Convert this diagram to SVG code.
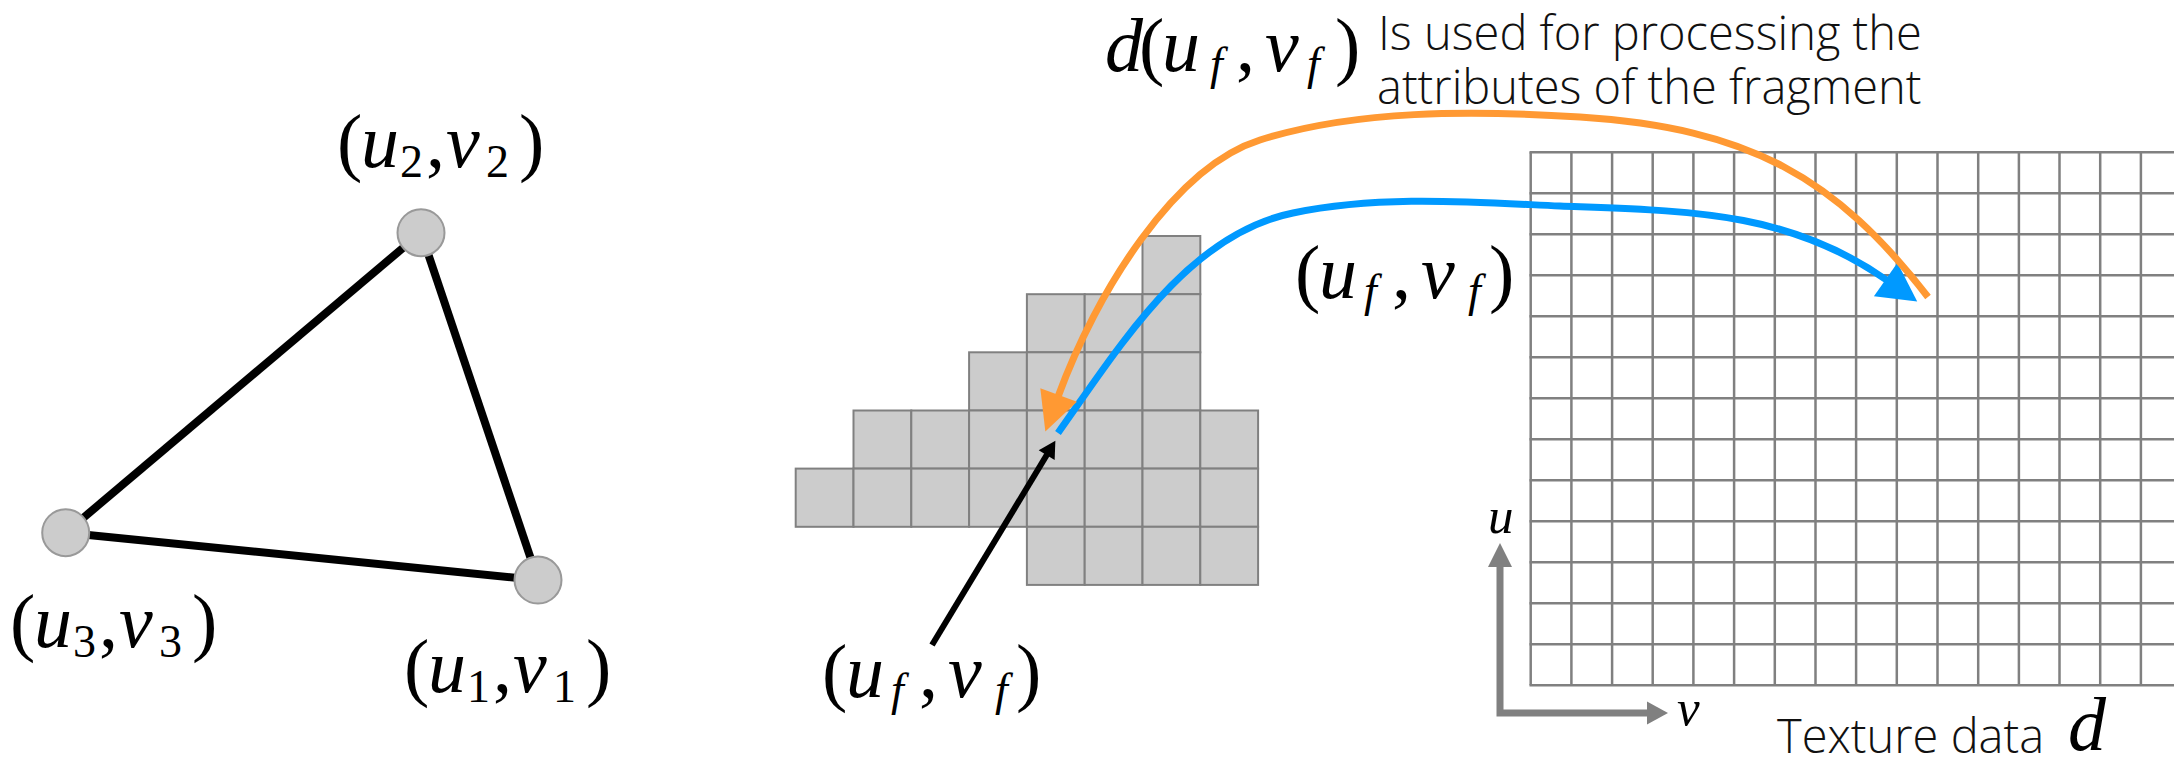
<svg xmlns="http://www.w3.org/2000/svg" width="2174" height="765" viewBox="0 0 2174 765">
<style>
.edge{stroke:#000;stroke-width:8;fill:none}
.vtx{fill:#cccccc;stroke:#999999;stroke-width:2}
.cell{fill:#cccccc;stroke:#808080;stroke-width:2}
.tex{stroke:#808080;stroke-width:2.5;fill:none}
.m{font-family:"Liberation Serif","Times New Roman",serif;font-size:76px;fill:#000}
.i{font-style:italic}
.s{font-size:46px}
.ax{font-family:"Liberation Serif","Times New Roman",serif;font-size:51px;font-style:italic;fill:#000}
.t{font-family:"Open Sans","Liberation Sans",sans-serif;font-weight:300;font-size:47px;fill:#111}
</style>
<defs>
<marker id="hb" markerUnits="userSpaceOnUse" markerWidth="40" markerHeight="42" refX="1" refY="21" orient="auto" overflow="visible"><path d="M0,0.5 L38.5,21 L0,41.5 z" fill="#0099ff"/></marker>
<marker id="ho" markerUnits="userSpaceOnUse" markerWidth="40" markerHeight="42" refX="1" refY="21" orient="auto" overflow="visible"><path d="M0,1.5 L38.7,21 L0,40.5 z" fill="#ff9933"/></marker>
<marker id="hk" markerUnits="userSpaceOnUse" markerWidth="18" markerHeight="20" refX="1" refY="10" orient="auto" overflow="visible"><path d="M0,0.7 L16.8,10 L0,19.3 z" fill="#000"/></marker>
</defs>
<rect width="2174" height="765" fill="#fff"/>

<g id="triangle">
<line class="edge" x1="421" y1="232.7" x2="65.7" y2="532.7"/>
<line class="edge" x1="421" y1="232.7" x2="538" y2="580"/>
<line class="edge" x1="65.7" y1="532.7" x2="538" y2="580"/>
</g>
<g id="vertex2"><circle class="vtx" cx="421" cy="232.7" r="23.5"/>
<text class="m"><tspan x="337" y="167">(</tspan><tspan class="i" x="361" y="167">u</tspan><tspan class="s" x="400" y="177">2</tspan><tspan x="426" y="167">,</tspan><tspan class="i" x="446" y="167">v</tspan><tspan class="s" x="486" y="177">2</tspan><tspan x="519" y="167">)</tspan></text></g>
<g id="vertex3"><circle class="vtx" cx="65.7" cy="532.7" r="23.5"/>
<text class="m"><tspan x="10" y="647">(</tspan><tspan class="i" x="34" y="647">u</tspan><tspan class="s" x="73" y="657">3</tspan><tspan x="99" y="647">,</tspan><tspan class="i" x="119" y="647">v</tspan><tspan class="s" x="159" y="657">3</tspan><tspan x="192" y="647">)</tspan></text></g>
<g id="vertex1"><circle class="vtx" cx="538" cy="580" r="23.5"/>
<text class="m"><tspan x="404" y="692">(</tspan><tspan class="i" x="428" y="692">u</tspan><tspan class="s" x="467" y="702">1</tspan><tspan x="493" y="692">,</tspan><tspan class="i" x="513" y="692">v</tspan><tspan class="s" x="553" y="702">1</tspan><tspan x="586" y="692">)</tspan></text></g>

<g id="fragments">
<rect class="cell" x="1142.5" y="236" width="57.8" height="58.2"/>
<rect class="cell" x="1026.9" y="294.2" width="57.8" height="58.1"/>
<rect class="cell" x="1084.7" y="294.2" width="57.8" height="58.1"/>
<rect class="cell" x="1142.5" y="294.2" width="57.8" height="58.1"/>
<rect class="cell" x="969.1" y="352.3" width="57.8" height="58.2"/>
<rect class="cell" x="1026.9" y="352.3" width="57.8" height="58.2"/>
<rect class="cell" x="1084.7" y="352.3" width="57.8" height="58.2"/>
<rect class="cell" x="1142.5" y="352.3" width="57.8" height="58.2"/>
<rect class="cell" x="853.5" y="410.5" width="57.8" height="58.1"/>
<rect class="cell" x="911.3" y="410.5" width="57.8" height="58.1"/>
<rect class="cell" x="969.1" y="410.5" width="57.8" height="58.1"/>
<rect class="cell" x="1026.9" y="410.5" width="57.8" height="58.1"/>
<rect class="cell" x="1084.7" y="410.5" width="57.8" height="58.1"/>
<rect class="cell" x="1142.5" y="410.5" width="57.8" height="58.1"/>
<rect class="cell" x="1200.3" y="410.5" width="57.8" height="58.1"/>
<rect class="cell" x="795.7" y="468.6" width="57.8" height="58.2"/>
<rect class="cell" x="853.5" y="468.6" width="57.8" height="58.2"/>
<rect class="cell" x="911.3" y="468.6" width="57.8" height="58.2"/>
<rect class="cell" x="969.1" y="468.6" width="57.8" height="58.2"/>
<rect class="cell" x="1026.9" y="468.6" width="57.8" height="58.2"/>
<rect class="cell" x="1084.7" y="468.6" width="57.8" height="58.2"/>
<rect class="cell" x="1142.5" y="468.6" width="57.8" height="58.2"/>
<rect class="cell" x="1200.3" y="468.6" width="57.8" height="58.2"/>
<rect class="cell" x="1026.9" y="526.8" width="57.8" height="58.1"/>
<rect class="cell" x="1084.7" y="526.8" width="57.8" height="58.1"/>
<rect class="cell" x="1142.5" y="526.8" width="57.8" height="58.1"/>
<rect class="cell" x="1200.3" y="526.8" width="57.8" height="58.1"/>
</g>

<g id="texture">
<path class="tex" d="M1530.7,152.3V685.3M1571.4,152.3V685.3M1612.1,152.3V685.3M1652.7,152.3V685.3M1693.4,152.3V685.3M1734.1,152.3V685.3M1774.8,152.3V685.3M1815.5,152.3V685.3M1856.1,152.3V685.3M1896.8,152.3V685.3M1937.5,152.3V685.3M1978.2,152.3V685.3M2018.9,152.3V685.3M2059.5,152.3V685.3M2100.2,152.3V685.3M2140.9,152.3V685.3"/>
<path class="tex" d="M1529.5,152.3H2174M1529.5,193.3H2174M1529.5,234.3H2174M1529.5,275.3H2174M1529.5,316.3H2174M1529.5,357.3H2174M1529.5,398.3H2174M1529.5,439.3H2174M1529.5,480.3H2174M1529.5,521.3H2174M1529.5,562.3H2174M1529.5,603.3H2174M1529.5,644.3H2174M1529.5,685.3H2174"/>
<text class="t" x="1777" y="753">Texture data</text>
<text class="m i" x="2068" y="750">d</text>
</g>

<g id="axes">
<path d="M1500,565 V713 H1649" fill="none" stroke="#808080" stroke-width="7"/>
<polygon points="1500,543 1512,567 1488,567" fill="#808080"/>
<polygon points="1668,713 1647,701.5 1647,724.5" fill="#808080"/>
<text class="ax" x="1488" y="533">u</text>
<text class="ax" x="1677" y="725">v</text>
</g>

<g id="label-frag">
<text class="m"><tspan x="822" y="697">(</tspan><tspan class="i" x="846" y="697">u</tspan><tspan class="s i" x="891" y="705">f</tspan><tspan x="919" y="697">,</tspan><tspan class="i" x="948" y="697">v</tspan><tspan class="s i" x="995" y="705">f</tspan><tspan x="1016" y="697">)</tspan></text>
</g>
<g id="label-tex">
<text class="m"><tspan x="1295" y="298">(</tspan><tspan class="i" x="1319" y="298">u</tspan><tspan class="s i" x="1364" y="306">f</tspan><tspan x="1392" y="298">,</tspan><tspan class="i" x="1421" y="298">v</tspan><tspan class="s i" x="1468" y="306">f</tspan><tspan x="1489" y="298">)</tspan></text>
</g>
<g id="label-d">
<text class="m"><tspan class="i" x="1105" y="71">d</tspan><tspan x="1139" y="71">(</tspan><tspan class="i" x="1162" y="71">u</tspan><tspan class="s i" x="1210" y="79">f</tspan><tspan x="1236" y="71">,</tspan><tspan class="i" x="1265" y="71">v</tspan><tspan class="s i" x="1307" y="79">f</tspan><tspan x="1335" y="71">)</tspan></text>
<text class="t" x="1378" y="50">Is used for processing the</text>
<text class="t" x="1377" y="104">attributes of the fragment</text>
</g>

<g id="connectors">
<line x1="932" y1="645" x2="1047.2" y2="454.3" stroke="#000" stroke-width="6" marker-end="url(#hk)"/>
<path d="M1058,433 C1120,346 1188,234 1293,213 C1381,195 1470,202 1560,206 C1690,211 1788,211 1886.5,280" fill="none" stroke="#0099ff" stroke-width="7" marker-end="url(#hb)"/>
<path d="M1928,297 C1836,178 1750,128 1580,117 C1470,110 1355,110 1260,140 C1174,167 1096,293 1058.3,396" fill="none" stroke="#ff9933" stroke-width="7" marker-end="url(#ho)"/>
</g>
</svg>
